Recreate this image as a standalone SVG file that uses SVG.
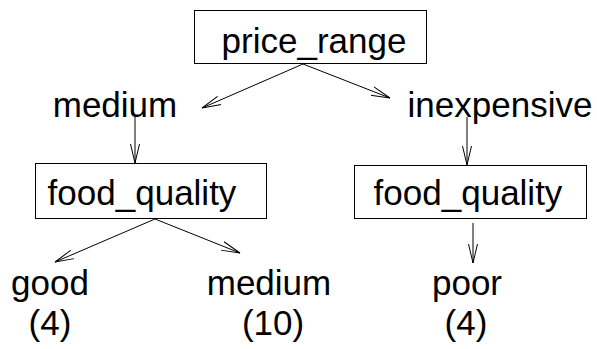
<svg xmlns="http://www.w3.org/2000/svg" width="597" height="349" viewBox="0 0 597 349">
  <style>
    .box { fill: #ffffff; stroke: #000000; stroke-width: 1; }
    .lbl { font-family: "Liberation Sans", Arial, sans-serif; font-size: 35px; fill: #000000; text-anchor: middle; }
    .edge { stroke: #000000; stroke-width: 1; fill: none; marker-end: url(#vhead); }
  </style>
  <defs>
    <marker id="vhead" viewBox="0 0 20 12" refX="19" refY="6" markerWidth="20" markerHeight="12" markerUnits="userSpaceOnUse" orient="auto">
      <path d="M0,1.5 L19,6 L0,10.5" fill="none" stroke="#000000" stroke-width="1"/>
    </marker>
  </defs>
  <rect width="597" height="349" fill="#ffffff"/>

  <g id="connectors">
    <line class="edge" x1="303" y1="64" x2="202" y2="108"/>
    <line class="edge" x1="303" y1="64" x2="390" y2="98"/>
    <line class="edge" x1="135" y1="117" x2="135" y2="163"/>
    <line class="edge" x1="467" y1="117" x2="467" y2="165"/>
    <line class="edge" x1="155" y1="219" x2="55" y2="262"/>
    <line class="edge" x1="155" y1="219" x2="240" y2="253"/>
    <line class="edge" x1="473" y1="223" x2="473" y2="263"/>
  </g>

  <g id="root">
    <rect class="box" x="194.5" y="10.5" width="232" height="53"/>
    <text class="lbl" x="314" y="53">price_range</text>
  </g>

  <g id="edge-label-medium">
    <text class="lbl" x="115" y="117">medium</text>
  </g>
  <g id="edge-label-inexpensive">
    <text class="lbl" x="500" y="117">inexpensive</text>
  </g>

  <g id="food-quality-left">
    <rect class="box" x="35.5" y="163.5" width="231" height="55"/>
    <text class="lbl" x="142" y="205">food_quality</text>
  </g>
  <g id="food-quality-right">
    <rect class="box" x="354.5" y="165.5" width="232" height="53"/>
    <text class="lbl" x="468" y="205">food_quality</text>
  </g>

  <g id="leaf-good">
    <text class="lbl" x="50" y="295">good</text>
    <text class="lbl" x="50" y="335">(4)</text>
  </g>
  <g id="leaf-medium">
    <text class="lbl" x="269" y="295">medium</text>
    <text class="lbl" x="273" y="335">(10)</text>
  </g>
  <g id="leaf-poor">
    <text class="lbl" x="467" y="295">poor</text>
    <text class="lbl" x="466" y="335">(4)</text>
  </g>
</svg>
